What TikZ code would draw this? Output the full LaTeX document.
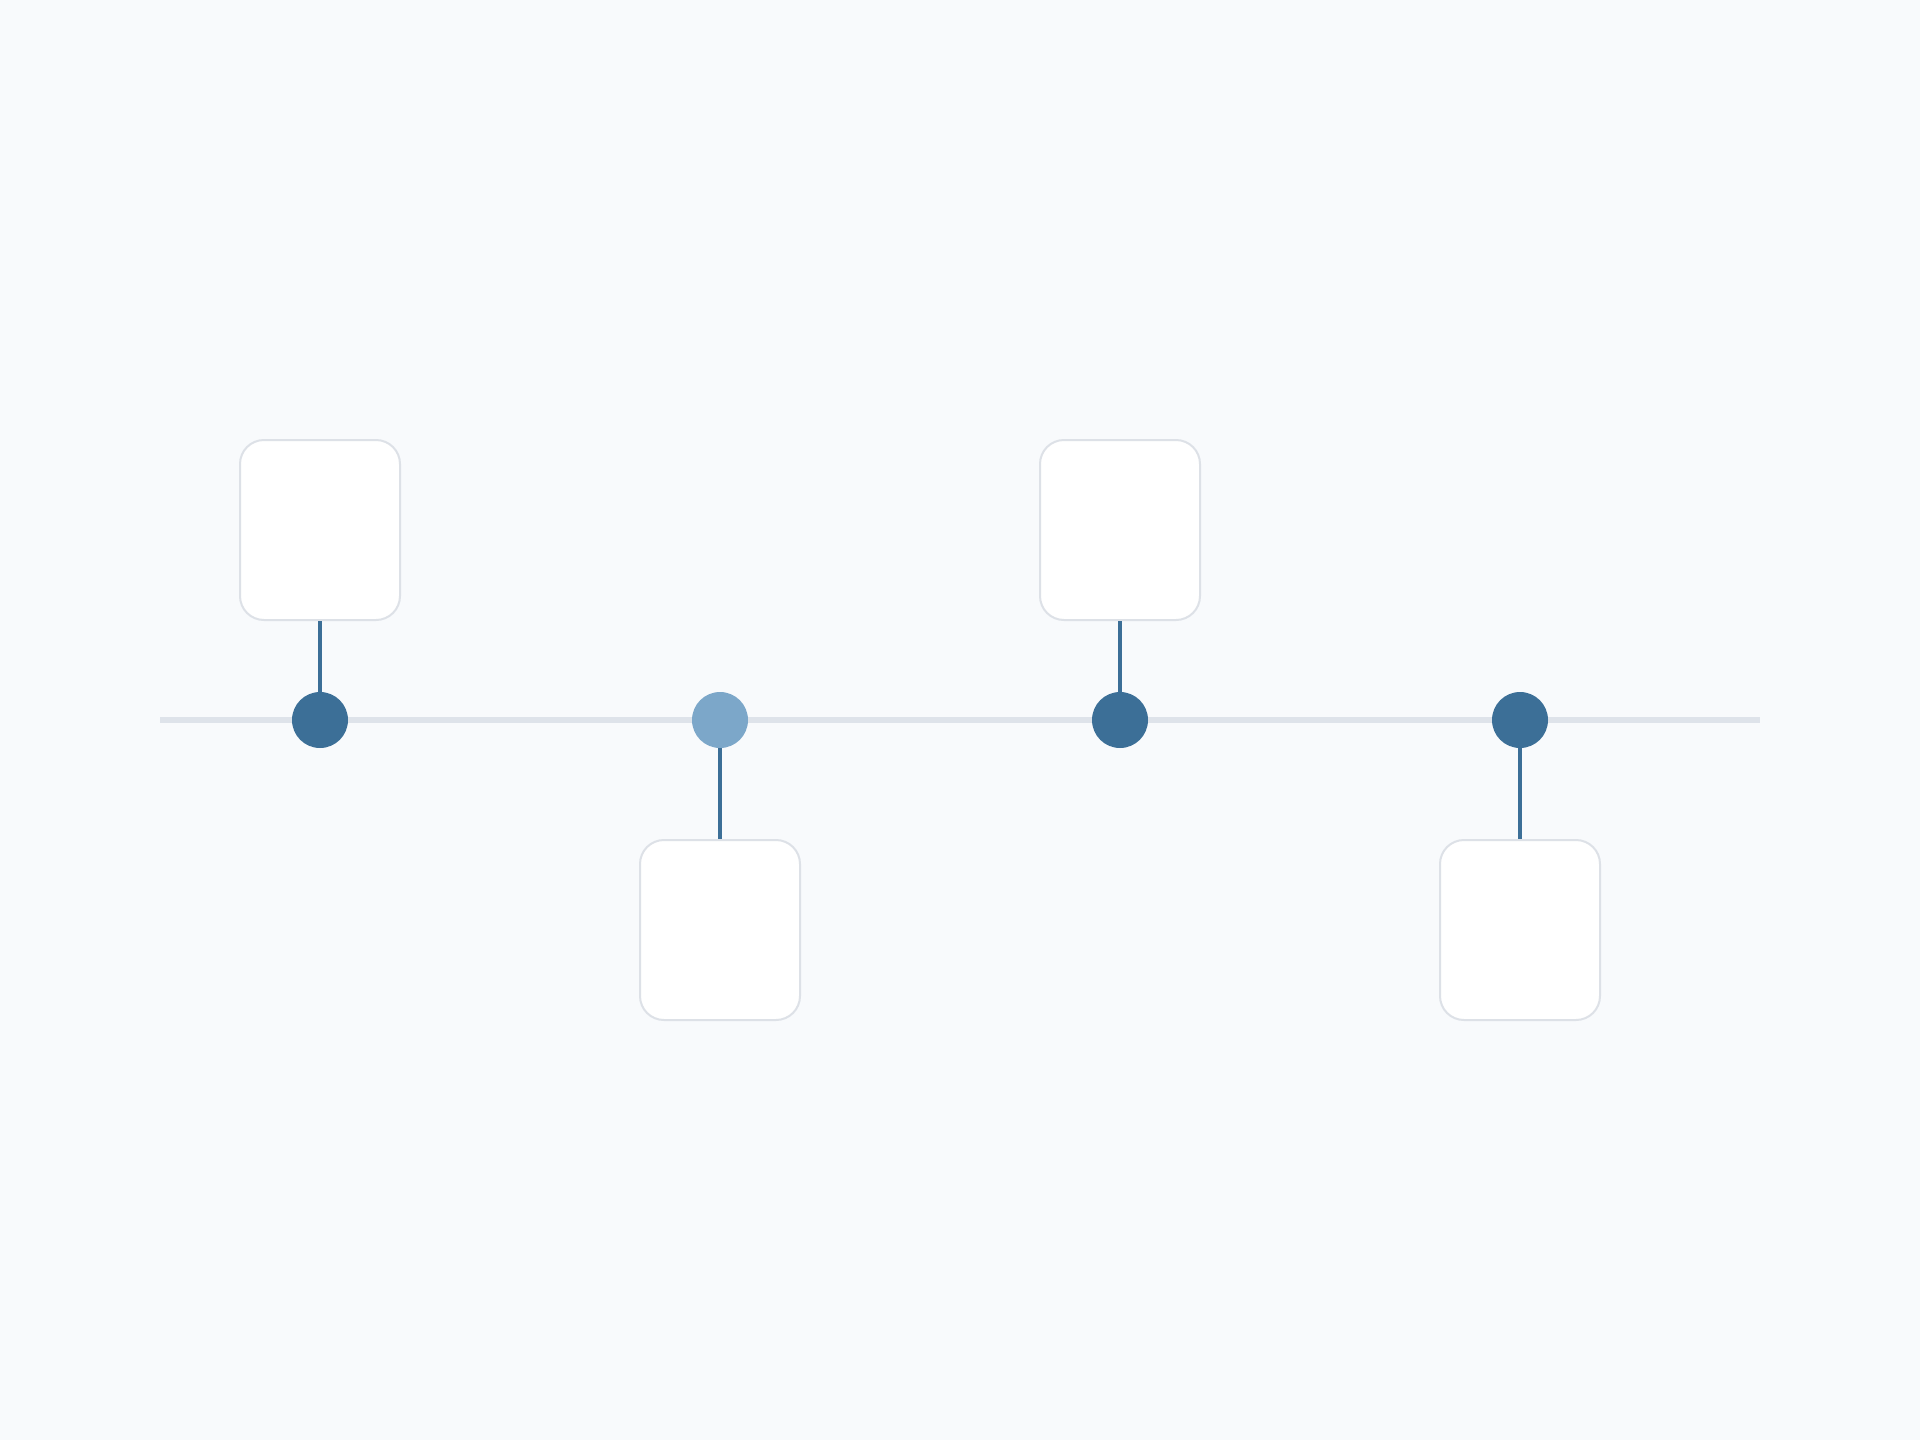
\documentclass[tikz,border=0pt]{standalone}
\usetikzlibrary{positioning}
\definecolor{bgc}{HTML}{F8FAFC}
\definecolor{axisc}{HTML}{DEE3EA}
\definecolor{darkdot}{HTML}{3C6F97}
\definecolor{lightdot}{HTML}{7CA7C9}
\definecolor{boxline}{HTML}{DDE1E7}
\tikzset{
  card/.style={draw=boxline, line width=2pt, fill=white, rounded corners=24pt, minimum width=160pt, minimum height=180pt, inner sep=0pt},
  dotdark/.style={circle, fill=darkdot, minimum size=56pt, inner sep=0pt},
  dotlight/.style={circle, fill=lightdot, minimum size=56pt, inner sep=0pt},
  stem/.style={draw=darkdot, line width=3.5pt},
  axis/.style={draw=axisc, line width=6pt}
}
\begin{document}
\begin{tikzpicture}[x=1pt,y=-1pt]
\fill[bgc] (0,0) rectangle (1920,1440);
\useasboundingbox (0,0) rectangle (1920,1440);
\coordinate (L) at (160,720);
\coordinate (R) at (1760,720);
\draw[axis] (L) -- (R);
\node[card] (b1) at (320,530) {};
\node[card] (b2) at (720,930) {};
\node[card] (b3) at (1120,530) {};
\node[card] (b4) at (1520,930) {};
\node[dotdark] (d1) at (320,720) {};
\node[dotlight] (d2) at (720,720) {};
\node[dotdark] (d3) at (1120,720) {};
\node[dotdark] (d4) at (1520,720) {};
\draw[stem] (b1.south) -- (d1.north);
\draw[stem] (d2.south) -- (b2.north);
\draw[stem] (b3.south) -- (d3.north);
\draw[stem] (d4.south) -- (b4.north);
\end{tikzpicture}
\end{document}
